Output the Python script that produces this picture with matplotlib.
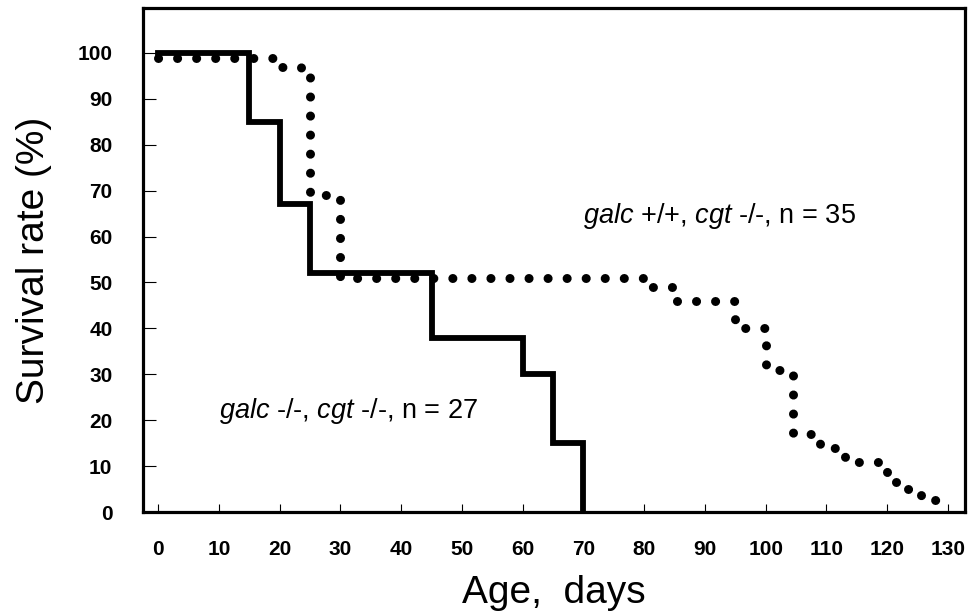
import matplotlib
matplotlib.use("Agg")
from matplotlib import pyplot as plt

plt.rcParams["font.family"] = ["Liberation Sans", "DejaVu Sans"]
plt.rcParams["mathtext.fontset"] = "custom"
plt.rcParams["mathtext.rm"] = "Liberation Sans"
plt.rcParams["mathtext.it"] = "Liberation Sans:italic"

# galc -/-, cgt -/- (n = 27), solid step curve
ko_days = [0, 15, 20, 25, 45, 60, 65, 70, 70]
ko_surv = [100, 85, 67, 52, 38, 30, 15, 0, 0]

# galc +/+, cgt -/- (n = 35), dotted step curve
wt_days = [0, 19.5, 23.5, 25, 30, 81, 85, 95, 100, 104.5, 109, 113, 120, 123, 125.5, 130]
wt_surv = [99, 97, 95.5, 69, 51, 49, 46, 40, 31, 17, 14, 11, 6.5, 5, 2.6, 2.6]

x_ticks = list(range(0, 131, 10))
y_ticks = list(range(0, 101, 10))

fig = plt.figure(figsize=(9.77, 6.15), dpi=100)
ax = fig.add_axes([143 / 977, 1 - 512 / 615, (965 - 143) / 977, (512 - 8) / 615])

ax.step(ko_days, ko_surv, where="post", color="black", lw=4.2,
        solid_joinstyle="miter")
ax.step(wt_days, wt_surv, where="post", color="black", lw=6.5,
        linestyle=(0, (0.01, 2.1)), dash_capstyle="round")

ax.set_xlim(-2.5, 132.8)
ax.set_ylim(0, 109.8)
ax.set_xticks(x_ticks)
ax.set_yticks(y_ticks)
ax.tick_params(direction="in", length=6, width=0.8, labelsize=15)
ax.tick_params(axis="x", pad=20)
ax.tick_params(axis="y", length=9, pad=22)
for lab in ax.get_xticklabels() + ax.get_yticklabels():
    lab.set_fontweight("bold")
for s in ax.spines.values():
    s.set_linewidth(2.3)

ax.set_xlabel("Age,  days", fontsize=28, labelpad=12)
ax.set_ylabel("Survival rate (%)", fontsize=28, labelpad=18)

ax.text(70, 64.5, r"$galc$ +/+, $cgt$ -/-, n = 35", fontsize=19.5, va="center")
ax.text(10, 22, r"$galc$ -/-, $cgt$ -/-, n = 27", fontsize=19.5, va="center")

fig.savefig("out.png", dpi=100)
